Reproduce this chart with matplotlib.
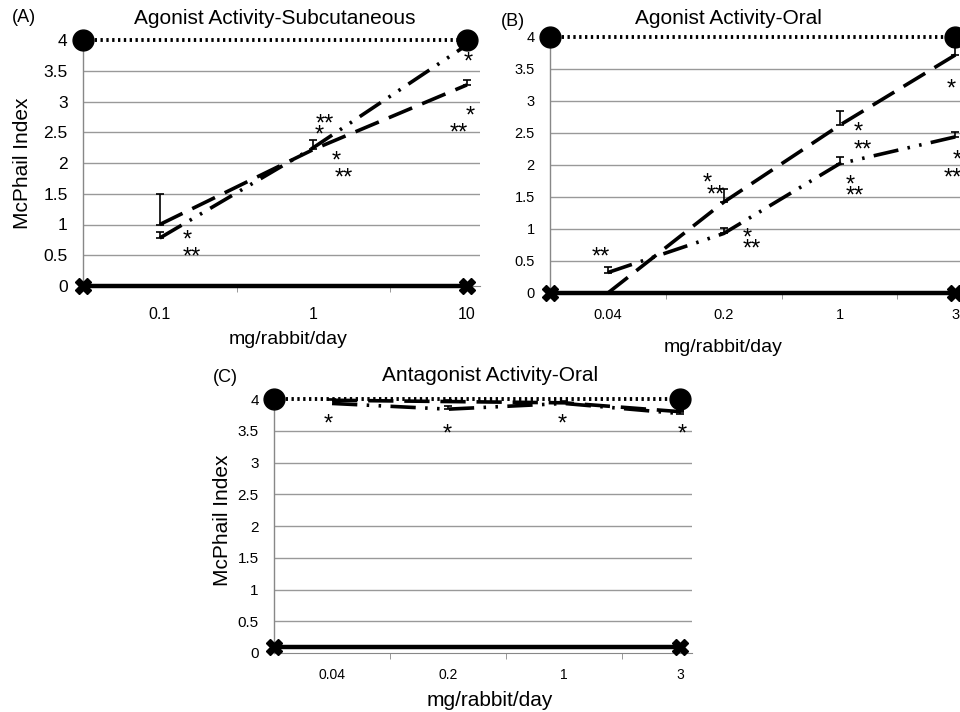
import matplotlib
matplotlib.use("Agg")
import matplotlib.pyplot as plt
import matplotlib.transforms as mtransforms
import numpy as np

plt.rcParams['font.family'] = ['Liberation Sans', 'DejaVu Sans']

# ---------------- data ----------------
doses_A = ["0.1", "1", "10"]
dashed_A = [1.00, 2.22, 3.27]
dashed_A_err = [0.50, 0.16, 0.08]
dashdot_A = [0.78, 2.25, 3.92]
dashdot_A_err = [0.09, 0.0, 0.0]

doses_B = ["0.04", "0.2", "1", "3"]
dashed_B = [0.0, 1.42, 2.62, 3.72]
dashed_B_err = [0.0, 0.20, 0.23, 0.13]
dashdot_B = [0.32, 0.93, 2.02, 2.44]
dashdot_B_err = [0.08, 0.09, 0.10, 0.08]

doses_C = ["0.04", "0.2", "1", "3"]
dashed_C = [3.98, 3.96, 3.94, 3.80]
dashed_C_err = [0.02, 0.03, 0.03, 0.03]
dashdot_C = [3.93, 3.84, 3.93, 3.77]
dashdot_C_err = [0.0, 0.05, 0.0, 0.04]

pos_ctrl = 4.0
neg_ctrl_AB = 0.0
neg_ctrl_C = 0.1

yticks = [0, 0.5, 1, 1.5, 2, 2.5, 3, 3.5, 4]
ytick_labels = ["0", "0.5", "1", "1.5", "2", "2.5", "3", "3.5", "4"]

stars_A = [(0.18, 0.86, "*"), (0.21, 0.585, "**"), (1.075, 2.75, "**"), (1.04, 2.57, "*"),
           (1.15, 2.16, "*"), (1.20, 1.87, "**"), (2.01, 3.76, "*"), (2.02, 2.89, "*"),
           (1.95, 2.60, "**")]
stars_B = [(-0.06, 0.68, "**"), (0.86, 1.84, "*"), (0.93, 1.64, "**"), (1.20, 0.98, "*"),
           (1.24, 0.80, "**"), (2.16, 2.63, "*"), (2.20, 2.35, "**"), (2.09, 1.81, "*"),
           (2.13, 1.63, "**"), (2.96, 3.30, "*"), (3.02, 2.19, "*"), (2.98, 1.91, "**")]
stars_C = [(-0.03, 3.72, "*"), (0.99, 3.56, "*"), (1.98, 3.72, "*"), (3.02, 3.56, "*")]

W, H = 960, 712
fig = plt.figure(figsize=(W / 100, H / 100), dpi=100)


def rect(l, t, r, b):
    return [l / W, 1 - b / H, (r - l) / W, (b - t) / H]


def fpos(x, y):
    return x / W, 1 - y / H


DASH = (0, (7, 3))
DASHDOT = (0, (7, 2.6, 0.7, 2.6, 0.7, 2.6))


def panel(ax, cats, dsh, dsh_err, dd, dd_err, neg, stars, xmax, ytfs, xtfs, xpad):
    n = len(cats)
    x = np.arange(n)
    ax.set_xlim(-0.5, xmax)
    ax.set_ylim(0, 4)
    for s in ["top", "right"]:
        ax.spines[s].set_visible(False)
    ax.spines["left"].set_color("#888888")
    ax.spines["bottom"].set_color("#888888")
    ax.spines["left"].set_linewidth(1)
    ax.set_yticks(yticks)
    ax.set_yticklabels(ytick_labels, fontsize=ytfs)
    ax.tick_params(axis="y", length=0, pad=11)
    ax.set_xticks(x)
    ax.set_xticklabels(cats, fontsize=xtfs)
    ax.tick_params(axis="x", which="major", length=0, pad=xpad)
    ax.set_xticks(np.arange(n - 1) + 0.5, minor=True)
    ax.tick_params(axis="x", which="minor", length=4, color="#888888", direction="out")
    for yv in yticks[1:-1]:
        ax.axhline(yv, color="#999999", lw=1, zorder=1)

    # controls
    cx = [-0.5, n - 1]
    ax.plot(cx, [pos_ctrl, pos_ctrl], color="black", lw=2.8, linestyle=(0, (0.6, 0.9)),
            marker="o", markersize=15, clip_on=False, zorder=5)
    ax.plot(cx, [neg, neg], color="black", lw=3.2, linestyle="-",
            marker="X", markersize=11, clip_on=False, zorder=5)

    # series
    ax.plot(x, dsh, color="black", lw=2.6, linestyle=DASH, zorder=4, clip_on=False)
    ax.plot(x, dd, color="black", lw=2.6, linestyle=DASHDOT, zorder=4, clip_on=False)
    for yy, ee in ((dsh, dsh_err), (dd, dd_err)):
        xs = [xi for xi, e in zip(x, ee) if e > 0]
        ys = [yi for yi, e in zip(yy, ee) if e > 0]
        es = [e for e in ee if e > 0]
        if xs:
            ax.errorbar(xs, ys, yerr=[np.zeros(len(es)), es], fmt="none", ecolor="black",
                        elinewidth=1.2, capsize=3, capthick=1.2, zorder=4, clip_on=False)
    off = mtransforms.offset_copy(ax.transData, fig=fig, y=-10, units="points")
    for sx, sy, st in stars:
        ax.text(sx, sy, st, transform=off, ha="center", va="baseline", fontsize=17,
                zorder=6, clip_on=False)


axA = fig.add_axes(rect(83, 40, 480, 286))
panel(axA, doses_A, dashed_A, dashed_A_err, dashdot_A, dashdot_A_err, neg_ctrl_AB,
      stars_A, 2.085, 12.5, 11.5, 15)
axB = fig.add_axes(rect(550, 37, 960, 293))
panel(axB, doses_B, dashed_B, dashed_B_err, dashdot_B, dashdot_B_err, neg_ctrl_AB,
      stars_B, 3.04, 10.5, 10.5, 11)
axC = fig.add_axes(rect(274, 399, 692, 653))
panel(axC, doses_C, dashed_C, dashed_C_err, dashdot_C, dashdot_C_err, neg_ctrl_C,
      stars_C, 3.1, 11, 10, 11)

# texts
fig.text(*fpos(275, 18), "Agonist Activity-Subcutaneous", ha="center", va="center", fontsize=15)
fig.text(*fpos(728, 18), "Agonist Activity-Oral", ha="center", va="center", fontsize=15)
fig.text(*fpos(490, 376), "Antagonist Activity-Oral", ha="center", va="center", fontsize=15)
fig.text(*fpos(24, 18), "(A)", ha="center", va="center", fontsize=13)
fig.text(*fpos(513, 22), "(B)", ha="center", va="center", fontsize=13)
fig.text(*fpos(225, 377), "(C)", ha="center", va="center", fontsize=13)
fig.text(*fpos(288, 340), "mg/rabbit/day", ha="center", va="center", fontsize=14)
fig.text(*fpos(723, 347), "mg/rabbit/day", ha="center", va="center", fontsize=14)
fig.text(*fpos(490, 700), "mg/rabbit/day", ha="center", va="center", fontsize=15)
fig.text(*fpos(23, 163), "McPhail Index", ha="center", va="center", fontsize=15, rotation=90)
fig.text(*fpos(222, 520), "McPhail Index", ha="center", va="center", fontsize=15, rotation=90)

fig.savefig("out.png", dpi=100)
